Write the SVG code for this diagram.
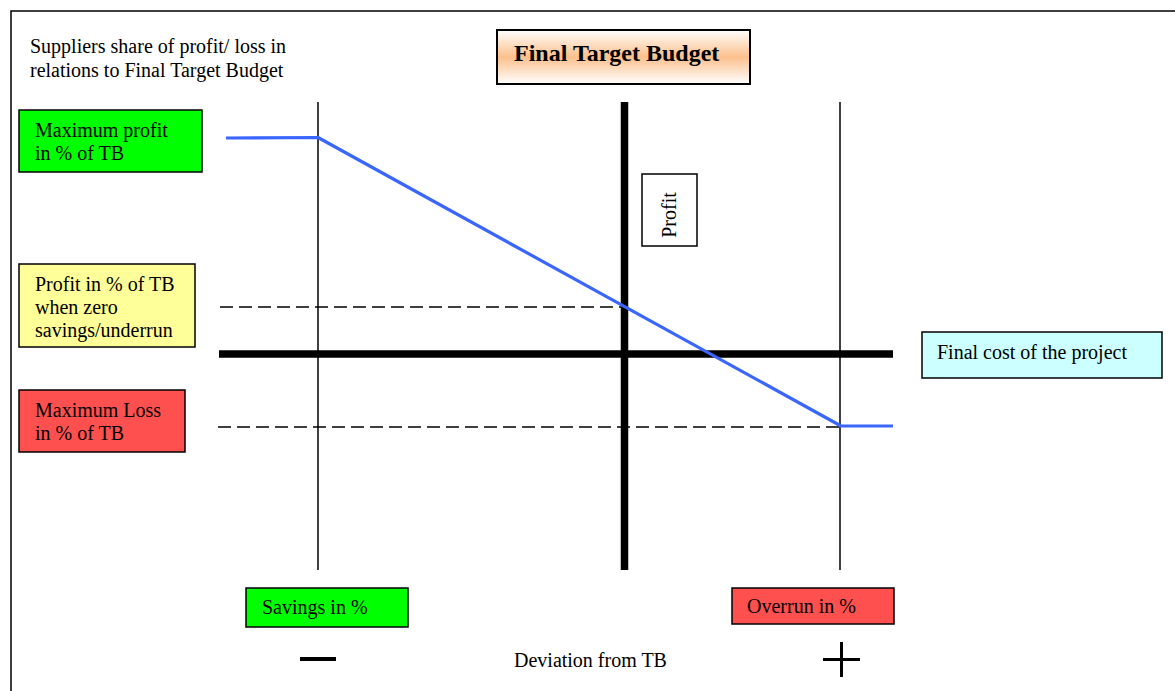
<svg xmlns="http://www.w3.org/2000/svg" width="1175" height="691" viewBox="0 0 1175 691">
<defs>
<linearGradient id="peach" x1="0" y1="0" x2="0" y2="1">
<stop offset="0" stop-color="#ffffff"/>
<stop offset="0.5" stop-color="#fbc08c"/>
<stop offset="1" stop-color="#ffffff"/>
</linearGradient>
<style>
.t{font-family:"Liberation Serif","Times New Roman",serif;font-size:20px;fill:#000}
.box{stroke:#000;stroke-width:1.5}
.thin{stroke:#000;stroke-width:1.5;fill:none}
.dash{stroke:#000;stroke-width:1.5;stroke-dasharray:13 6;fill:none}
.thick{stroke:#000;stroke-width:7.5;fill:none}
</style>
</defs>
<rect width="1175" height="691" fill="#fff"/>
<rect x="11" y="11" width="1200" height="720" fill="none" stroke="#000" stroke-width="1.5"/>

<g id="connectors">
<line class="thin" x1="318" y1="102" x2="318" y2="570"/>
<line class="thin" x1="840" y1="102" x2="840" y2="570"/>
<line class="dash" x1="220" y1="307" x2="625" y2="307"/>
<line class="dash" x1="218" y1="427" x2="840" y2="427"/>
<line class="thick" x1="624.5" y1="102" x2="624.5" y2="570"/>
<line class="thick" x1="219" y1="354" x2="893" y2="354"/>
<polyline points="226,138 318,137.5 841,426 893,426" fill="none" stroke="#3a66ff" stroke-width="3.2" stroke-linejoin="round"/>
<line x1="300" y1="659" x2="336" y2="659" stroke="#000" stroke-width="4"/>
<line x1="823" y1="659.5" x2="860" y2="659.5" stroke="#000" stroke-width="3"/>
<line x1="841.5" y1="642" x2="841.5" y2="677" stroke="#000" stroke-width="3"/>
</g>

<g id="caption">
<text class="t" x="30" y="53">Suppliers share of profit/ loss in</text>
<text class="t" x="30" y="77">relations to Final Target Budget</text>
</g>

<g id="title">
<rect x="497" y="30" width="253" height="54" fill="url(#peach)" stroke="#000" stroke-width="2"/>
<text x="514" y="61" style="font-family:'Liberation Serif','Times New Roman',serif;font-size:24px;font-weight:bold">Final Target Budget</text>
</g>

<g id="max-profit">
<rect class="box" x="19" y="110" width="183" height="62" fill="#00ff00"/>
<text class="t" x="35" y="137">Maximum profit</text>
<text class="t" x="35" y="160">in % of TB</text>
</g>

<g id="zero-profit">
<rect class="box" x="19" y="264" width="176" height="83" fill="#ffff99"/>
<text class="t" x="35" y="291">Profit in % of TB</text>
<text class="t" x="35" y="314">when zero</text>
<text class="t" x="35" y="337">savings/underrun</text>
</g>

<g id="max-loss">
<rect class="box" x="19" y="390" width="166" height="62" fill="#ff5050"/>
<text class="t" x="35" y="417">Maximum Loss</text>
<text class="t" x="35" y="440">in % of TB</text>
</g>

<g id="profit">
<rect class="box" x="642" y="174" width="55" height="72" fill="#fff"/>
<text class="t" transform="translate(676,215) rotate(-90)" text-anchor="middle">Profit</text>
</g>

<g id="final-cost">
<rect class="box" x="922" y="332" width="240" height="46" fill="#ccffff"/>
<text class="t" x="937" y="359">Final cost of the project</text>
</g>

<g id="savings">
<rect class="box" x="246" y="588" width="162" height="39" fill="#00ff00"/>
<text class="t" x="262" y="614">Savings in %</text>
</g>

<g id="overrun">
<rect class="box" x="732" y="588" width="162" height="36" fill="#ff5050"/>
<text class="t" x="747" y="613">Overrun in %</text>
</g>

<g id="deviation">
<text class="t" x="514" y="667">Deviation from TB</text>
</g>
</svg>
